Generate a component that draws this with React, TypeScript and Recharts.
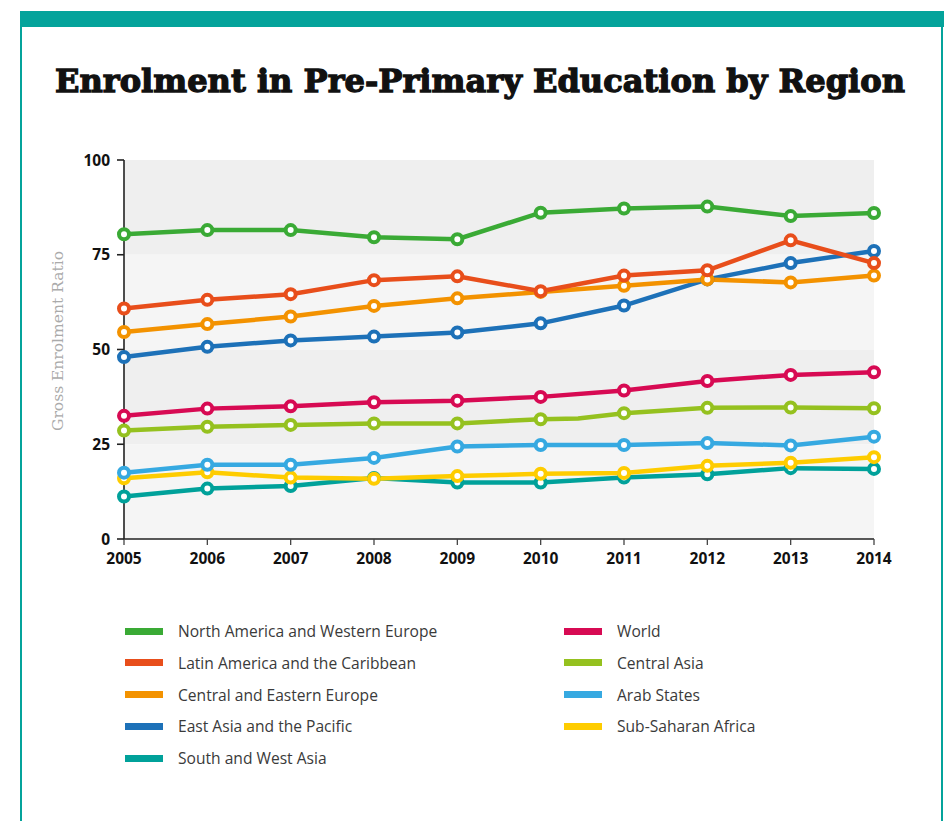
import React from 'react';
import { LineChart, Line, XAxis, YAxis, CartesianGrid, ReferenceArea } from 'recharts';

const years = [2005, 2006, 2007, 2008, 2009, 2010, 2011, 2012, 2013, 2014];
const yTicks = [0, 25, 50, 75, 100];

const northAmericaWesternEurope = [80.4, 81.5, 81.5, 79.6, 79.1, 86.1, 87.2, 87.7, 85.2, 86.0];
const latinAmericaCaribbean = [60.8, 63.1, 64.6, 68.3, 69.3, 65.4, 69.5, 70.9, 78.8, 72.8];
const centralEasternEurope = [54.6, 56.7, 58.7, 61.5, 63.5, 65.2, 66.8, 68.5, 67.7, 69.5];
const eastAsiaPacific = [48.0, 50.7, 52.4, 53.4, 54.5, 56.9, 61.6, 68.5, 72.8, 76.0];
const southWestAsia = [11.2, 13.3, 14.0, 16.1, 14.9, 14.9, 16.2, 17.1, 18.7, 18.5];
const world = [32.5, 34.4, 35.0, 36.1, 36.5, 37.5, 39.2, 41.7, 43.3, 44.0];
const centralAsia = [28.6, 29.6, 30.1, 30.5, 30.5, 31.6, 33.2, 34.6, 34.7, 34.5];
const centralAsiaBendYear = 2010.45;
const centralAsiaBendValue = 31.8;
const arabStates = [17.5, 19.6, 19.6, 21.4, 24.4, 24.8, 24.8, 25.3, 24.7, 27.0];
const subSaharanAfrica = [16.0, 17.6, 16.2, 15.9, 16.6, 17.2, 17.4, 19.3, 20.1, 21.6];

const legendColumn1 = [
  'North America and Western Europe',
  'Latin America and the Caribbean',
  'Central and Eastern Europe',
  'East Asia and the Pacific',
  'South and West Asia',
];
const legendColumn2 = ['World', 'Central Asia', 'Arab States', 'Sub-Saharan Africa'];

const colors: Record<string, string> = {
  'North America and Western Europe': '#3aaa35',
  'Latin America and the Caribbean': '#e84e1b',
  'Central and Eastern Europe': '#f39200',
  'East Asia and the Pacific': '#1d71b8',
  'South and West Asia': '#00a19a',
  World: '#d70a53',
  'Central Asia': '#95c11f',
  'Arab States': '#36a9e1',
  'Sub-Saharan Africa': '#fecc00',
};

const toRows = (vals: number[]) => years.map((y, i) => ({ year: y, value: vals[i] }));

const centralAsiaRows = (() => {
  const rows = toRows(centralAsia);
  const idx = rows.findIndex((r) => r.year > centralAsiaBendYear);
  rows.splice(idx, 0, { year: centralAsiaBendYear, value: centralAsiaBendValue });
  return rows;
})();

// drawing order: bottom first
const series = [
  { name: 'South and West Asia', data: toRows(southWestAsia) },
  { name: 'Sub-Saharan Africa', data: toRows(subSaharanAfrica) },
  { name: 'Arab States', data: toRows(arabStates) },
  { name: 'Central Asia', data: centralAsiaRows },
  { name: 'World', data: toRows(world) },
  { name: 'East Asia and the Pacific', data: toRows(eastAsiaPacific) },
  { name: 'Central and Eastern Europe', data: toRows(centralEasternEurope) },
  { name: 'Latin America and the Caribbean', data: toRows(latinAmericaCaribbean) },
  { name: 'North America and Western Europe', data: toRows(northAmericaWesternEurope) },
];

const TEAL = '#04a39b';
const tickFont = { fontFamily: '"Open Sans", sans-serif', fontWeight: 700, fontSize: 15.5, fill: '#111' };

const makeDot = (color: string) => (props: any) => {
  const { cx, cy, payload, index } = props;
  if (!payload || !Number.isInteger(payload.year)) return <g key={`d-${index}`} />;
  return (
    <circle key={`d-${index}`} cx={cx} cy={cy} r={5} fill="#fff" stroke={color} strokeWidth={4} />
  );
};

export default function App() {
  return (
    <div
      style={{
        position: 'absolute',
        left: 0,
        top: 0,
        width: 944,
        height: 821,
        background: '#fff',
        overflow: 'hidden',
      }}
    >
      {/* frame */}
      <div style={{ position: 'absolute', left: 20, top: 11, width: 924, height: 16, background: TEAL }} />
      <div style={{ position: 'absolute', left: 20, top: 11, width: 2, height: 810, background: TEAL }} />
      <div style={{ position: 'absolute', left: 941, top: 11, width: 2, height: 810, background: TEAL }} />

      <svg style={{ position: 'absolute', left: 0, top: 0 }} width={944} height={600}>
        <text
          x={480}
          y={92}
          textAnchor="middle"
          textLength={850}
          lengthAdjust="spacingAndGlyphs"
          stroke="#111"
          strokeWidth={1.3}
          style={{ fontFamily: '"DejaVu Serif", serif', fontWeight: 900, fontSize: 32, fill: '#111' }}
        >
          Enrolment in Pre-Primary Education by Region
        </text>
        <text
          transform="translate(63,341) rotate(-90)"
          textAnchor="middle"
          textLength={180}
          lengthAdjust="spacingAndGlyphs"
          style={{ fontFamily: '"DejaVu Serif", serif', fontSize: 15.5, fill: '#aaaaaa' }}
        >
          Gross Enrolment Ratio
        </text>
      </svg>

      <div style={{ position: 'absolute', left: 0, top: 0 }}>
        <LineChart width={944} height={600} margin={{ top: 160, right: 70, bottom: 0, left: 0 }}>
          <ReferenceArea y1={75} y2={100} fill="#efefef" fillOpacity={1} stroke="none" />
          <ReferenceArea y1={50} y2={75} fill="#f5f5f5" fillOpacity={1} stroke="none" />
          <ReferenceArea y1={25} y2={50} fill="#efefef" fillOpacity={1} stroke="none" />
          <ReferenceArea y1={0} y2={25} fill="#f5f5f5" fillOpacity={1} stroke="none" />
          <CartesianGrid vertical={false} stroke="#ffffff" strokeWidth={2} />
          <XAxis
            dataKey="year"
            type="number"
            domain={[2005, 2014]}
            ticks={years}
            allowDuplicatedCategory={false}
            height={61}
            tickSize={6}
            tickMargin={8}
            axisLine={{ stroke: '#222', strokeWidth: 1.6 }}
            tickLine={{ stroke: '#444', strokeWidth: 1.3 }}
            tick={tickFont}
            interval={0}
          />
          <YAxis
            type="number"
            domain={[0, 100]}
            ticks={yTicks}
            width={124}
            tickSize={7}
            tickMargin={7}
            axisLine={{ stroke: '#222', strokeWidth: 1.6 }}
            tickLine={{ stroke: '#222', strokeWidth: 1.6 }}
            tick={tickFont}
            interval={0}
          />
          {series.map((s) => (
            <Line
              key={s.name}
              data={s.data}
              dataKey="value"
              name={s.name}
              type="linear"
              stroke={colors[s.name]}
              strokeWidth={4.5}
              dot={makeDot(colors[s.name])}
              activeDot={false}
              isAnimationActive={false}
            />
          ))}
        </LineChart>
      </div>

      {/* legend */}
      {[legendColumn1, legendColumn2].map((col, ci) =>
        col.map((name, ri) => (
          <div
            key={name}
            style={{
              position: 'absolute',
              left: ci === 0 ? 125 : 564,
              top: 631 + ri * 31.8 - 11,
              height: 22,
              display: 'flex',
              alignItems: 'center',
            }}
          >
            <div style={{ width: 38, height: 7, background: colors[name], marginRight: 15 }} />
            <span
              style={{
                fontFamily: '"Open Sans", sans-serif',
                fontSize: 15.6,
                color: '#3a3a3a',
                whiteSpace: 'nowrap',
              }}
            >
              {name}
            </span>
          </div>
        ))
      )}
    </div>
  );
}
